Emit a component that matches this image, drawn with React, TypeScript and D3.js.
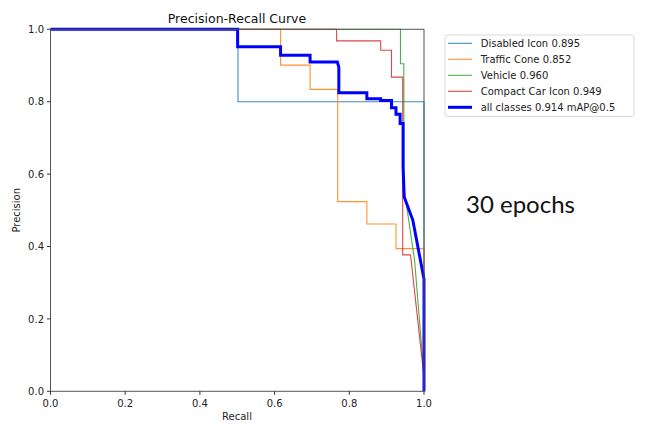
import React from 'react';
import * as d3 from 'd3';

// recall / precision pairs
const DISABLED_R = [0, 0.502, 0.502, 1.0, 1.0];
const DISABLED_P = [1, 1, 0.8, 0.8, 0];

const CONE_R = [0, 0.616, 0.616, 0.695, 0.695, 0.769, 0.769, 0.847, 0.847, 0.925, 0.925, 1.0, 1.0];
const CONE_P = [1, 1, 0.901, 0.901, 0.834, 0.834, 0.524, 0.524, 0.462, 0.462, 0.394, 0.394, 0];

const VEHICLE_R = [0, 0.937, 0.937, 0.946, 0.946, 0.95, 0.975, 1.0, 1.0];
const VEHICLE_P = [1, 1, 0.905, 0.905, 0.56, 0.537, 0.36, 0.04, 0];

const CAR_R = [0, 0.766, 0.766, 0.884, 0.884, 0.913, 0.913, 0.943, 0.943, 0.964, 1.0, 1.0];
const CAR_P = [1, 1, 0.968, 0.968, 0.942, 0.942, 0.868, 0.868, 0.377, 0.377, 0.04, 0];

const ALL_R = [0, 0.501, 0.501, 0.616, 0.616, 0.695, 0.695, 0.768, 0.772, 0.772, 0.847, 0.847, 0.884, 0.884, 0.913, 0.913, 0.925, 0.925, 0.936, 0.936, 0.944, 0.944, 0.947, 0.97, 1.0, 1.0];
const ALL_P = [1, 1, 0.952, 0.952, 0.928, 0.928, 0.91, 0.91, 0.895, 0.825, 0.825, 0.808, 0.808, 0.803, 0.803, 0.783, 0.783, 0.765, 0.765, 0.74, 0.74, 0.62, 0.537, 0.473, 0.31, 0];

const LABELS = ['Disabled Icon 0.895', 'Traffic Cone 0.852', 'Vehicle 0.960', 'Compact Car Icon 0.949', 'all classes 0.914 mAP@0.5'];
const COLORS = ['#1f77b4', '#ff7f0e', '#2ca02c', '#d62728', '#0000ff'];
const TICKS = [0, 0.2, 0.4, 0.6, 0.8, 1.0];

const SERIES = [
  [DISABLED_R, DISABLED_P],
  [CONE_R, CONE_P],
  [VEHICLE_R, VEHICLE_P],
  [CAR_R, CAR_P],
  [ALL_R, ALL_P],
];

const W = 648;
const H = 433;
const FONT = '"DejaVu Sans", sans-serif';

export default function App() {
  const x = d3.scaleLinear().domain([0, 1]).range([50.5, 424]);
  const y = d3.scaleLinear().domain([0, 1]).range([391.3, 29.3]);

  const line = d3
    .line<[number, number]>()
    .x((d) => x(d[0]))
    .y((d) => y(d[1]));

  const paths = SERIES.map(([rs, ps]) => line(rs.map((r, i) => [r, ps[i]] as [number, number])));

  return (
    <div style={{ position: 'fixed', left: 0, top: 0, background: '#fff' }}>
      <svg width={W} height={H} style={{ display: 'block' }}>
        <rect width={W} height={H} fill="#fff" />
        <text x={237} y={23} textAnchor="middle" fontFamily={FONT} fontSize={12.5} fill="#111">
          Precision-Recall Curve
        </text>

        {paths.map((d, i) => (
          <path
            key={i}
            d={d || ''}
            fill="none"
            stroke={COLORS[i]}
            strokeWidth={i === 4 ? 3 : 1.1}
            strokeOpacity={i === 4 ? 1 : 0.85}
          />
        ))}

        {/* spines */}
        <rect x={x(0)} y={y(1)} width={x(1) - x(0)} height={y(0) - y(1)} fill="none" stroke="#555" strokeWidth={1} />

        {TICKS.map((t) => (
          <g key={'x' + t}>
            <line x1={x(t)} x2={x(t)} y1={y(0)} y2={y(0) + 3.5} stroke="#333" />
            <text x={x(t)} y={406.5} textAnchor="middle" fontFamily={FONT} fontSize={10} fill="#222">
              {t.toFixed(1)}
            </text>
          </g>
        ))}
        {TICKS.map((t) => (
          <g key={'y' + t}>
            <line x1={x(0) - 3.5} x2={x(0)} y1={y(t)} y2={y(t)} stroke="#333" />
            <text x={44} y={y(t) + 3.6} textAnchor="end" fontFamily={FONT} fontSize={10} fill="#222">
              {t.toFixed(1)}
            </text>
          </g>
        ))}

        <text x={237} y={420} textAnchor="middle" fontFamily={FONT} fontSize={10} fill="#222">
          Recall
        </text>
        <text
          transform={`translate(20,${(y(0) + y(1)) / 2}) rotate(-90)`}
          textAnchor="middle"
          fontFamily={FONT}
          fontSize={10}
          fill="#222"
        >
          Precision
        </text>

        {/* legend */}
        <rect x={445} y={35} width={189} height={81.5} rx={2.5} fill="#fff" stroke="#d0d0d0" strokeWidth={0.8} />
        {LABELS.map((lab, i) => (
          <g key={lab} transform={`translate(0,${43.3 + i * 16})`}>
            <line x1={448} x2={472} y1={0} y2={0} stroke={COLORS[i]} strokeWidth={i === 4 ? 3 : 1.1} strokeOpacity={i === 4 ? 1 : 0.85} />
            <text x={480.7} y={3.6} fontFamily={FONT} fontSize={10} fill="#222">
              {lab}
            </text>
          </g>
        ))}

        <text x={466} y={213} fontFamily="Lato, sans-serif" fontSize={24} fill="#111">
          30 epochs
        </text>
      </svg>
    </div>
  );
}
